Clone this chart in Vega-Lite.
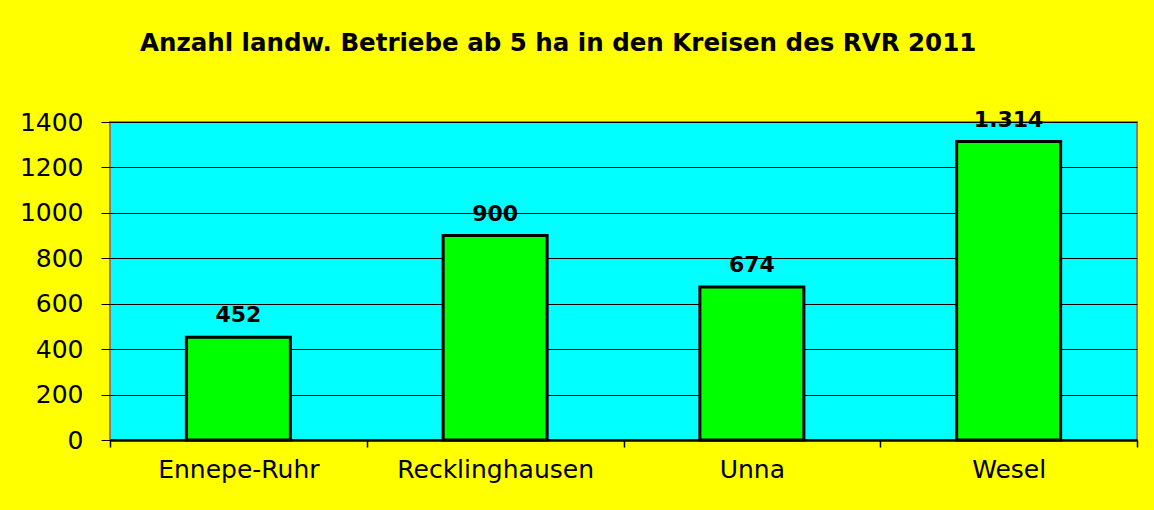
{
  "$schema": "https://vega.github.io/schema/vega-lite/v6.json",
  "autosize": {"type": "none"},
  "width": 1027,
  "height": 318,
  "padding": {"left": 110, "top": 122, "right": 17, "bottom": 70},
  "background": "#FFFF00",
  "title": {
    "text": "Anzahl landw. Betriebe ab 5 ha in den Kreisen des RVR 2011",
    "anchor": "start",
    "frame": "group",
    "dx": 30,
    "offset": 33,
    "baseline": "alphabetic",
    "font": "DejaVu Sans",
    "fontSize": 24.5,
    "fontWeight": "bold",
    "color": "#000000"
  },
  "config": {
    "locale": {"number": {"decimal": ",", "thousands": ".", "grouping": [3], "currency": ["", " €"]}},
    "view": {"fill": "#00FFFF", "stroke": "#808080", "strokeWidth": 2},
    "font": "DejaVu Sans"
  },
  "data": {
    "values": [
      {"Kreis": "Ennepe-Ruhr", "Betriebe": 452},
      {"Kreis": "Recklinghausen", "Betriebe": 900},
      {"Kreis": "Unna", "Betriebe": 674},
      {"Kreis": "Wesel", "Betriebe": 1314}
    ]
  },
  "encoding": {
    "x": {
      "field": "Kreis",
      "type": "nominal",
      "sort": null,
      "scale": {"paddingInner": 0, "paddingOuter": 0},
      "axis": {
        "title": null,
        "labelAngle": 0,
        "labelLimit": 0,
        "labelFont": "DejaVu Sans",
        "labelFontSize": 25,
        "labelColor": "#000000",
        "labelPadding": 10,
        "tickBand": "extent",
        "tickSize": 7,
        "tickColor": "#000000",
        "tickWidth": 1.5,
        "domainColor": "#000000",
        "domainWidth": 2.5,
        "grid": false
      }
    },
    "y": {
      "field": "Betriebe",
      "type": "quantitative",
      "scale": {"domain": [0, 1400], "nice": false},
      "axis": {
        "title": null,
        "values": [0, 200, 400, 600, 800, 1000, 1200, 1400],
        "format": "d",
        "labelFont": "DejaVu Sans",
        "labelFontSize": 25,
        "labelColor": "#000000",
        "labelPadding": 18,
        "tickSize": 9,
        "tickColor": "#000000",
        "tickWidth": 1,
        "domain": false,
        "grid": true,
        "gridColor": "#000000",
        "gridWidth": 1,
        "gridOpacity": 1
      }
    }
  },
  "layer": [
    {
      "mark": {"type": "bar", "size": 104, "color": "#00FF00", "stroke": "#000000", "strokeWidth": 3}
    },
    {
      "mark": {"type": "text", "dy": -15, "baseline": "alphabetic", "font": "DejaVu Sans", "fontSize": 22, "fontWeight": "bold", "color": "#000000"},
      "encoding": {"text": {"field": "Betriebe", "type": "quantitative", "format": ","}}
    }
  ]
}
